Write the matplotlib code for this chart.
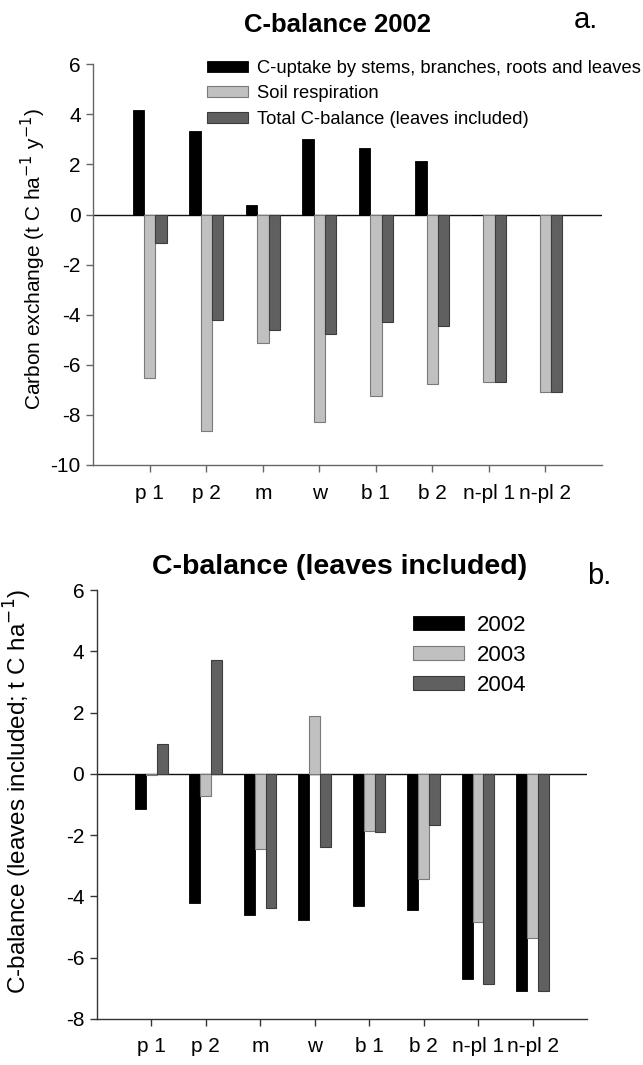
import numpy as np
import matplotlib
matplotlib.use("Agg")
import matplotlib.pyplot as plt

plt.rcParams['font.family'] = ['Liberation Sans', 'DejaVu Sans']
plt.rcParams['axes.unicode_minus'] = False

# Sites
sites = ['p 1', 'p 2', 'm', 'w', 'b 1', 'b 2', 'n-pl 1', 'n-pl 2']

# Panel a: carbon exchange 2002 (t C ha-1 y-1)
c_uptake = [4.17, 3.32, 0.37, 3.02, 2.65, 2.14, 0.0, 0.0]
soil_resp = [-6.52, -8.64, -5.11, -8.28, -7.23, -6.78, -6.70, -7.07]
total_bal = [-1.15, -4.20, -4.60, -4.78, -4.30, -4.43, -6.69, -7.08]

# Panel b: C-balance (leaves included) per year
bal_2002 = [-1.15, -4.20, -4.60, -4.78, -4.30, -4.43, -6.69, -7.08]
bal_2003 = [-0.04, -0.72, -2.46, 1.89, -1.86, -3.43, -4.83, -5.35]
bal_2004 = [0.96, 3.70, -4.39, -2.39, -1.91, -1.67, -6.87, -7.07]

BLACK = '#000000'
LIGHT = '#c0c0c0'
DARK = '#606060'

W, H = 643, 1065
fig = plt.figure(figsize=(W / 100, H / 100), dpi=100)

x = np.arange(len(sites))
bw = 0.2


def style_axes(ax, ylim, yticks, spine_col, tick_fs, xpad):
    ax.set_xlim(-1, 8)
    ax.set_ylim(*ylim)
    ax.set_yticks(yticks)
    ax.set_xticks(x)
    ax.set_xticklabels(sites)
    for s in ('top', 'right'):
        ax.spines[s].set_visible(False)
    for s in ('left', 'bottom'):
        ax.spines[s].set_color(spine_col)
        ax.spines[s].set_linewidth(1.0)
    ax.tick_params(axis='both', direction='out', length=5, width=1.0,
                   color=spine_col, labelsize=tick_fs)
    ax.tick_params(axis='x', pad=xpad)
    ax.tick_params(axis='y', pad=4)
    ax.axhline(0, color='#111111', lw=1.0, zorder=1)


# ---------------- Panel a ----------------
ax1 = fig.add_axes([93.3 / W, 1 - 465 / H, (602 - 93.3) / W, (465 - 64.3) / H])
ax1.bar(x - bw, c_uptake, bw, color=BLACK, edgecolor=BLACK, lw=0.6,
        label='C-uptake by stems, branches, roots and leaves', zorder=2)
ax1.bar(x, soil_resp, bw, color=LIGHT, edgecolor='#7a7a7a', lw=0.8,
        label='Soil respiration', zorder=2)
ax1.bar(x + bw, total_bal, bw, color=DARK, edgecolor='#3c3c3c', lw=0.8,
        label='Total C-balance (leaves included)', zorder=2)
style_axes(ax1, (-10, 6), np.arange(-10, 7, 2), '#666666', 15, 9)
ax1.set_ylabel('Carbon exchange (t C ha$^{-1}$ y$^{-1}$)', fontsize=15)
ax1.yaxis.set_label_coords(-0.090, 0.515)
ax1.legend(loc='upper left', bbox_to_anchor=(207 / W, 1 - 60 / H),
           bbox_transform=fig.transFigure, frameon=False, fontsize=13.2,
           borderpad=0, borderaxespad=0, handlelength=2.25, handleheight=0.55,
           handletextpad=0.5, labelspacing=0.46)

fig.text(338 / W, 1 - 25 / H, 'C-balance 2002', ha='center', va='center',
         fontsize=18.5, fontweight='bold')
fig.text(586 / W, 1 - 20 / H, 'a.', ha='center', va='center', fontsize=21)

# ---------------- Panel b ----------------
ax2 = fig.add_axes([96.7 / W, 1 - 1019 / H, (587 - 96.7) / W, (1019 - 590) / H])
ax2.bar(x - bw, bal_2002, bw, color=BLACK, edgecolor=BLACK, lw=0.6,
        label='2002', zorder=2)
ax2.bar(x, bal_2003, bw, color=LIGHT, edgecolor='#7a7a7a', lw=0.8,
        label='2003', zorder=2)
ax2.bar(x + bw, bal_2004, bw, color=DARK, edgecolor='#3c3c3c', lw=0.8,
        label='2004', zorder=2)
style_axes(ax2, (-8, 6), np.arange(-8, 7, 2), '#333333', 15, 8)
ax2.set_ylabel('C-balance (leaves included; t C ha$^{-1}$)', fontsize=17.5)
ax2.yaxis.set_label_coords(-0.128, 0.53)
ax2.legend(loc='upper left', bbox_to_anchor=(413 / W, 1 - 615 / H),
           bbox_transform=fig.transFigure, frameon=False, fontsize=16,
           borderpad=0, borderaxespad=0, handlelength=2.3, handleheight=0.55,
           handletextpad=0.58, labelspacing=0.4)

fig.text(339.5 / W, 1 - 567 / H, 'C-balance (leaves included)', ha='center',
         va='center', fontsize=20.5, fontweight='bold')
fig.text(599 / W, 1 - 576 / H, 'b.', ha='center', va='center', fontsize=21)

fig.savefig('out.png', dpi=100)
